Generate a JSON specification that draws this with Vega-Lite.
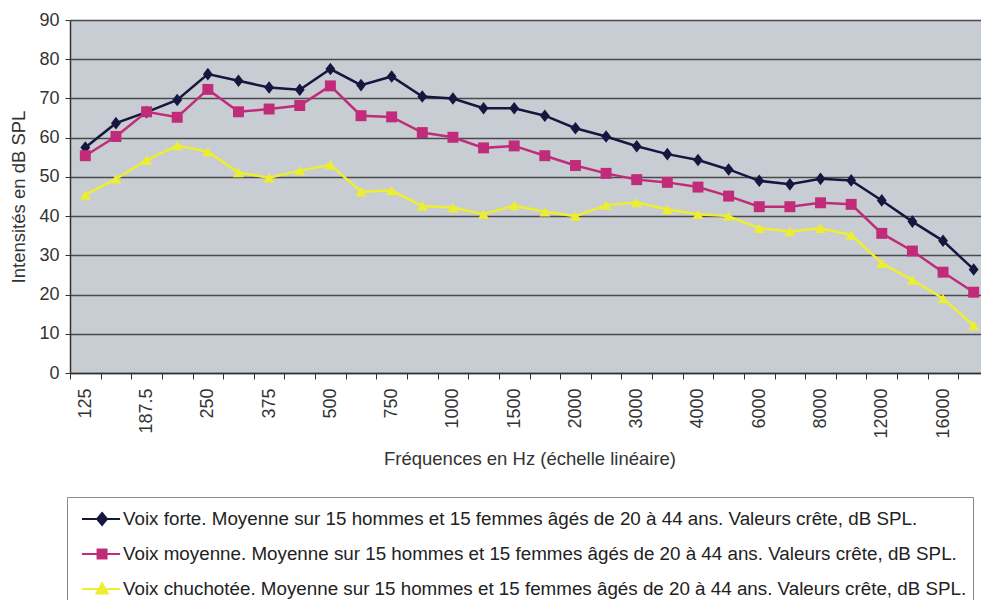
{
  "$schema": "https://vega.github.io/schema/vega-lite/v6.json",
  "width": 911,
  "height": 353,
  "autosize": {"type": "none"},
  "padding": {"left": 70, "top": 20, "right": 0, "bottom": 227},
  "background": "white",
  "config": {
    "font": "Liberation Sans",
    "view": {"fill": "#c8cdd4", "stroke": null}
  },
  "datasets": {
    "freq": [
      {"f": 125, "forte": 57.5, "moyenne": 55.4, "chuchotee": 45.4},
      {"f": 156.25, "forte": 63.7, "moyenne": 60.3, "chuchotee": 49.5},
      {"f": 187.5, "forte": 66.5, "moyenne": 66.6, "chuchotee": 54.3},
      {"f": 218.75, "forte": 69.6, "moyenne": 65.2, "chuchotee": 58.0},
      {"f": 250, "forte": 76.2, "moyenne": 72.3, "chuchotee": 56.4},
      {"f": 312.5, "forte": 74.5, "moyenne": 66.6, "chuchotee": 51.1},
      {"f": 375, "forte": 72.8, "moyenne": 67.3, "chuchotee": 49.8},
      {"f": 437.5, "forte": 72.2, "moyenne": 68.2, "chuchotee": 51.6},
      {"f": 500, "forte": 77.5, "moyenne": 73.2, "chuchotee": 53.1},
      {"f": 625, "forte": 73.4, "moyenne": 65.6, "chuchotee": 46.2},
      {"f": 750, "forte": 75.6, "moyenne": 65.3, "chuchotee": 46.5},
      {"f": 875, "forte": 70.5, "moyenne": 61.3, "chuchotee": 42.6},
      {"f": 1000, "forte": 70.0, "moyenne": 60.1, "chuchotee": 42.2},
      {"f": 1250, "forte": 67.5, "moyenne": 57.4, "chuchotee": 40.5},
      {"f": 1500, "forte": 67.5, "moyenne": 57.9, "chuchotee": 42.7},
      {"f": 1750, "forte": 65.6, "moyenne": 55.4, "chuchotee": 41.1},
      {"f": 2000, "forte": 62.4, "moyenne": 52.9, "chuchotee": 40.0},
      {"f": 2500, "forte": 60.3, "moyenne": 50.9, "chuchotee": 42.8},
      {"f": 3000, "forte": 57.8, "moyenne": 49.3, "chuchotee": 43.5},
      {"f": 3500, "forte": 55.8, "moyenne": 48.6, "chuchotee": 41.7},
      {"f": 4000, "forte": 54.3, "moyenne": 47.4, "chuchotee": 40.5},
      {"f": 5000, "forte": 51.9, "moyenne": 45.1, "chuchotee": 40.0},
      {"f": 6000, "forte": 49.0, "moyenne": 42.4, "chuchotee": 36.9},
      {"f": 7000, "forte": 48.1, "moyenne": 42.4, "chuchotee": 36.1},
      {"f": 8000, "forte": 49.5, "moyenne": 43.4, "chuchotee": 36.9},
      {"f": 10000, "forte": 49.1, "moyenne": 43.0, "chuchotee": 35.2},
      {"f": 12000, "forte": 44.0, "moyenne": 35.6, "chuchotee": 28.0},
      {"f": 14000, "forte": 38.6, "moyenne": 31.1, "chuchotee": 23.7},
      {"f": 16000, "forte": 33.7, "moyenne": 25.7, "chuchotee": 19.0},
      {"f": 18000, "forte": 26.4, "moyenne": 20.6, "chuchotee": 12.1}
    ],
    "noms": [
      {"cle": "forte", "nom": "Voix forte. Moyenne sur 15 hommes et 15 femmes âgés de 20 à 44 ans. Valeurs crête, dB SPL."},
      {"cle": "moyenne", "nom": "Voix moyenne. Moyenne sur 15 hommes et 15 femmes âgés de 20 à 44 ans. Valeurs crête, dB SPL."},
      {"cle": "chuchotee", "nom": "Voix chuchotée. Moyenne sur 15 hommes et 15 femmes âgés de 20 à 44 ans. Valeurs crête, dB SPL."}
    ]
  },
  "data": {"name": "freq"},
  "transform": [
    {"fold": ["forte", "moyenne", "chuchotee"], "as": ["cle", "v"]},
    {"lookup": "cle", "from": {"data": {"name": "noms"}, "key": "cle", "fields": ["nom"]}}
  ],
  "encoding": {
    "x": {
      "field": "f",
      "type": "ordinal",
      "scale": {"type": "band", "paddingInner": 0, "paddingOuter": 0, "range": [0, 919]},
      "axis": {
        "title": "Fréquences en Hz (échelle linéaire)",
        "labelAngle": 270,
        "tickBand": "extent",
        "labelExpr": "indexof([125,187.5,250,375,500,750,1000,1500,2000,3000,4000,6000,8000,12000,16000], datum.value) >= 0 ? '' + datum.value : ''",
        "labelOverlap": false,
        "labelFontSize": 18,
        "labelColor": "#333",
        "labelPadding": 9,
        "tickSize": 6,
        "tickColor": "#333",
        "tickWidth": 1,
        "domainColor": "#333",
        "domainWidth": 1.5,
        "grid": false,
        "titleFontSize": 18.5,
        "titleFontWeight": "normal",
        "titleColor": "#333",
        "titlePadding": 11
      }
    },
    "y": {
      "field": "v",
      "type": "quantitative",
      "scale": {"domain": [0, 90], "nice": false},
      "axis": {
        "title": "Intensités en dB SPL",
        "values": [0, 10, 20, 30, 40, 50, 60, 70, 80, 90],
        "grid": true,
        "gridColor": "#4a4a4a",
        "gridWidth": 1.5,
        "domainColor": "#333",
        "domainWidth": 1.5,
        "tickColor": "#333",
        "tickSize": 5,
        "labelFontSize": 18,
        "labelColor": "#333",
        "labelPadding": 6,
        "titleFontSize": 18.5,
        "titleFontWeight": "normal",
        "titleColor": "#333",
        "titlePadding": 10
      }
    },
    "color": {
      "field": "nom",
      "type": "nominal",
      "scale": {
        "domain": [
          "Voix forte. Moyenne sur 15 hommes et 15 femmes âgés de 20 à 44 ans. Valeurs crête, dB SPL.",
          "Voix moyenne. Moyenne sur 15 hommes et 15 femmes âgés de 20 à 44 ans. Valeurs crête, dB SPL.",
          "Voix chuchotée. Moyenne sur 15 hommes et 15 femmes âgés de 20 à 44 ans. Valeurs crête, dB SPL."
        ],
        "range": ["#161640", "#c02c7a", "#eeee30"]
      },
      "legend": {
        "orient": "none",
        "legendX": -3,
        "legendY": 477,
        "title": null,
        "direction": "vertical",
        "padding": 6,
        "strokeColor": "#8a8a8a",
        "fillColor": "white",
        "labelFontSize": 18.8,
        "labelColor": "#222",
        "labelLimit": 0,
        "labelOffset": 18,
        "rowPadding": 9,
        "symbolSize": 900,
        "symbolStrokeWidth": 2,
        "symbolType": "M-0.47,0H2.07",
        "encode": {
          "symbols": {
            "update": {
              "shape": {"signal": "indexof(datum.value,'forte')>=0 ? 'M-0.47,0H2.07M0.87,-0.4L1.2,0L0.87,0.4L0.54,0Z' : (indexof(datum.value,'moyenne')>=0 ? 'M-0.47,0H2.07M0.57,-0.3H1.17V0.3H0.57Z' : 'M-0.47,0H2.07M0.87,-0.38L1.25,0.3H0.49Z')"},
              "fill": {"scale": "color", "field": "value"},
              "stroke": {"scale": "color", "field": "value"},
              "strokeWidth": {"value": 2},
              "opacity": {"value": 1}
            }
          }
        }
      }
    }
  },
  "layer": [
    {"mark": {"type": "line", "strokeWidth": 2.5}},
    {
      "transform": [{"filter": "datum.cle === 'forte'"}],
      "mark": {"type": "point", "filled": true, "opacity": 1, "size": 120, "shape": "M0,-1.15L0.9,0L0,1.15L-0.9,0Z"}
    },
    {
      "transform": [{"filter": "datum.cle === 'moyenne'"}],
      "mark": {"type": "point", "filled": true, "opacity": 1, "size": 120, "shape": "square"}
    },
    {
      "transform": [{"filter": "datum.cle === 'chuchotee'"}],
      "mark": {"type": "point", "filled": true, "opacity": 1, "size": 120, "shape": "triangle-up"}
    }
  ]
}
